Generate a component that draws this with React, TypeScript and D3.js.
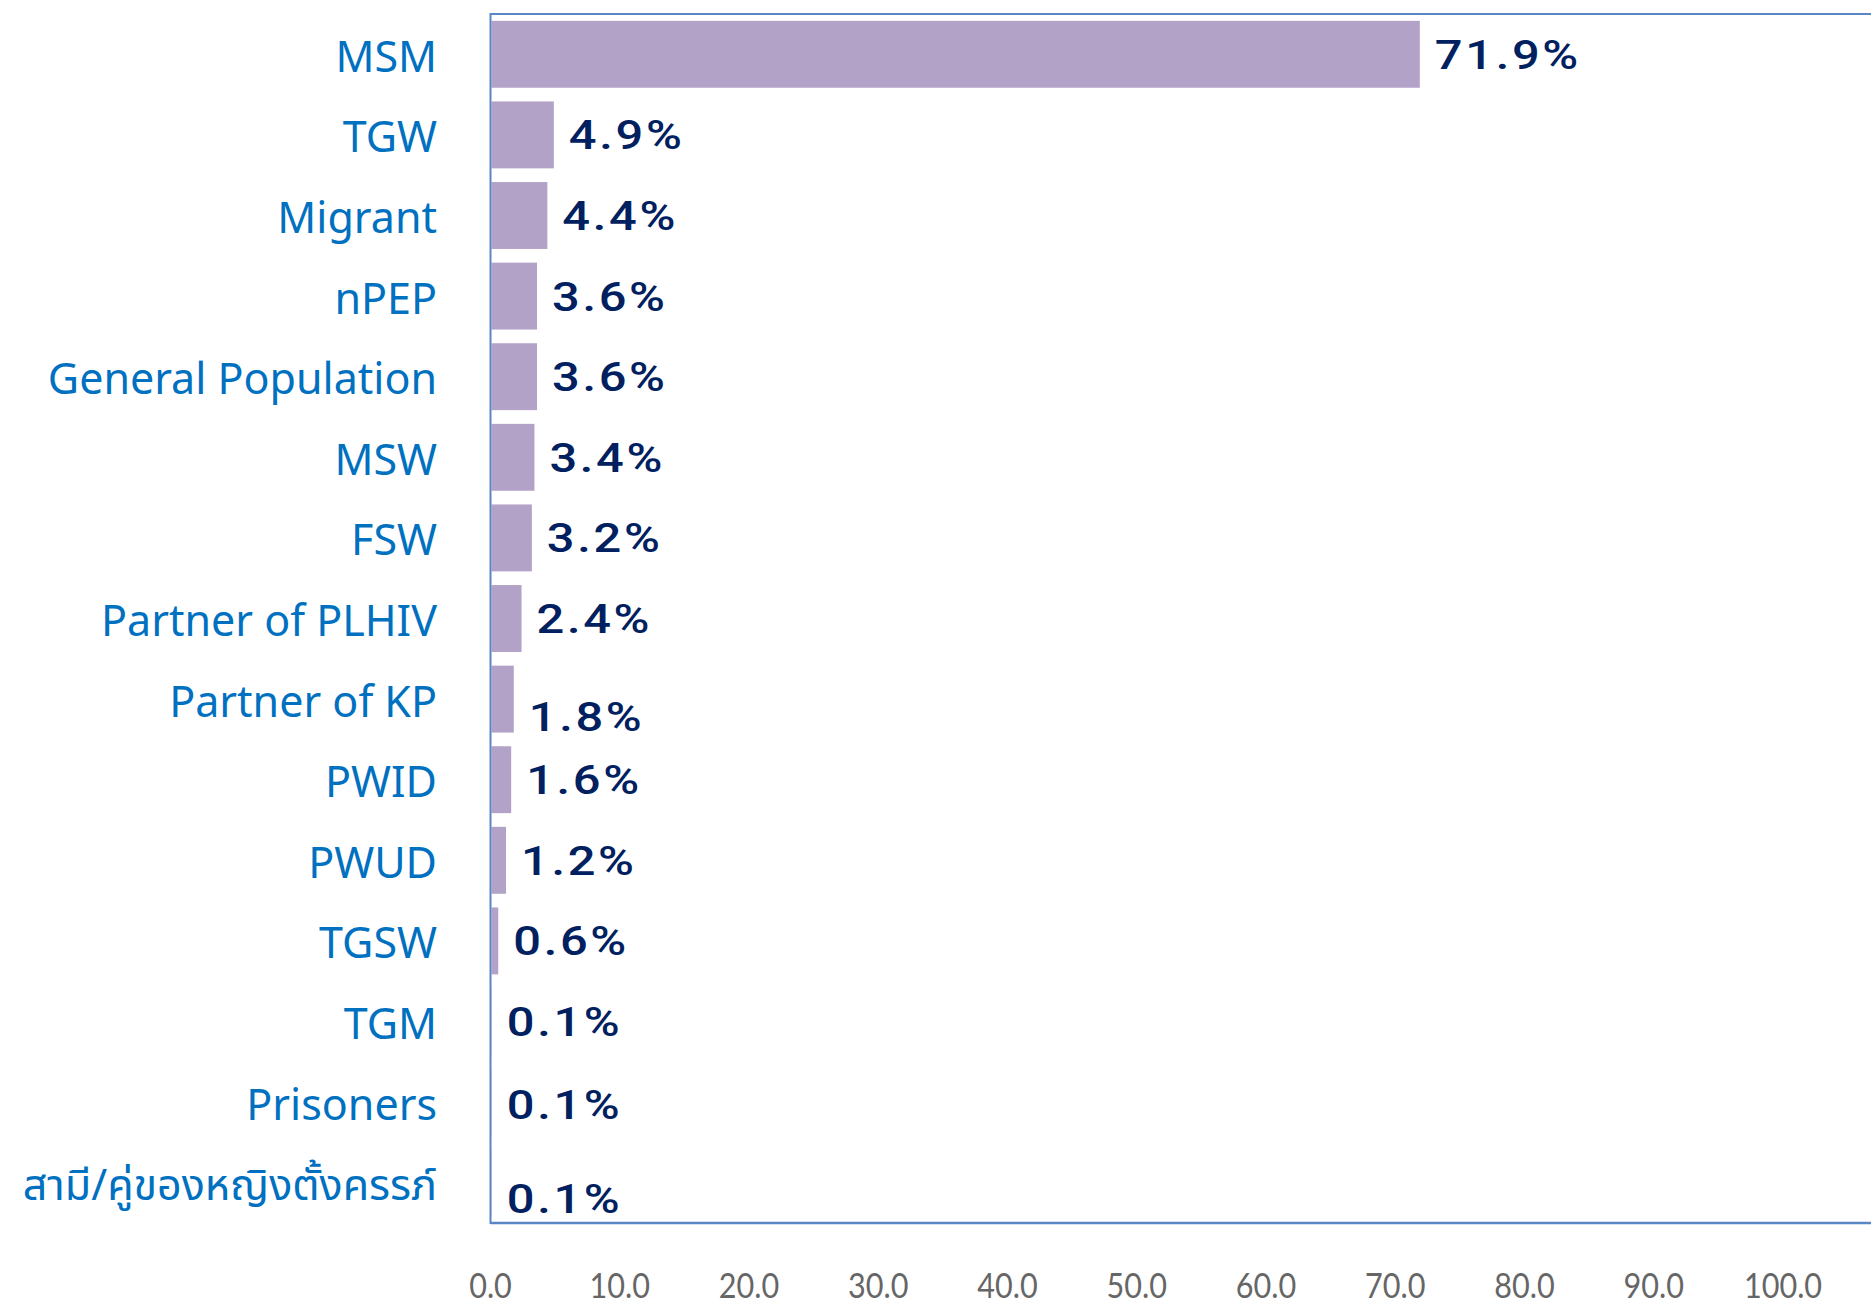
import React from "react";
import * as d3 from "d3";

const categories = [
  "MSM",
  "TGW",
  "Migrant",
  "nPEP",
  "General Population",
  "MSW",
  "FSW",
  "Partner of PLHIV",
  "Partner of KP",
  "PWID",
  "PWUD",
  "TGSW",
  "TGM",
  "Prisoners",
  "สามี/คู่ของหญิงตั้งครรภ์",
];
const values = [71.9, 4.9, 4.4, 3.6, 3.6, 3.4, 3.2, 2.4, 1.8, 1.6, 1.2, 0.6, 0.1, 0.1, 0.1];
const valueLabels = ["71.9%", "4.9%", "4.4%", "3.6%", "3.6%", "3.4%", "3.2%", "2.4%", "1.8%", "1.6%", "1.2%", "0.6%", "0.1%", "0.1%", "0.1%"];
const xTicks = [0, 10, 20, 30, 40, 50, 60, 70, 80, 90, 100];

// manual label nudges (vertical), as in the original chart
const labelNudge: Record<string, number> = {
  "Partner of KP": 17,
  "Prisoners": 2,
  "สามี/คู่ของหญิงตั้งครรภ์": 16,
};

const W = 1871;
const H = 1304;

export default function App() {
  const x = d3.scaleLinear().domain([0, 100]).range([490.5, 1783]);
  const y = d3
    .scaleBand<string>()
    .domain(categories)
    .range([14, 1223])
    .paddingInner(0.17)
    .paddingOuter(0.085);
  const bw = y.bandwidth();
  const frameColor = "#5A86C3";

  return (
    <svg
      width={W}
      height={H}
      viewBox={`0 0 ${W} ${H}`}
      style={{ position: "absolute", left: 0, top: 0, display: "block", background: "#fff" }}
    >
      <rect x={0} y={0} width={W} height={H} fill="#fff" />
      {/* bars */}
      {categories.map((c, i) => (
        <rect
          key={c}
          x={x(0) + 1}
          y={y(c)!}
          width={Math.max(0, x(values[i]) - x(0) - 1)}
          height={bw}
          fill="#B3A2C7"
        />
      ))}
      {/* plot frame */}
      <line x1={x(0)} x2={W} y1={14} y2={14} stroke={frameColor} strokeWidth={2} />
      <line x1={x(0)} x2={W} y1={1223} y2={1223} stroke={frameColor} strokeWidth={2.5} />
      <line x1={x(0)} x2={x(0)} y1={13} y2={1224} stroke={frameColor} strokeWidth={2} />
      {/* category labels */}
      {categories.map((c) => (
        <text
          key={"c" + c}
          x={437}
          y={y(c)! + bw / 2 + 17.5}
          textAnchor="end"
          fill="#0070C0"
          fontFamily="'Noto Sans', 'Noto Sans Thai', 'Loma', 'Garuda', sans-serif"
          fontSize={43}
        >
          {c}
        </text>
      ))}
      {/* value labels */}
      {categories.map((c, i) => (
        <text
          key={"v" + c}
          transform={`translate(${x(values[i]) + 15},${y(c)! + bw / 2 + 14.5 + (labelNudge[c] || 0)}) scale(1.22,1)`}
          fill="#002060"
          fontFamily="Roboto, 'Noto Sans', sans-serif"
          fontWeight={500}
          fontSize={40}
          letterSpacing={2.2}
        >
          {valueLabels[i]}
        </text>
      ))}
      {/* x tick labels */}
      {xTicks.map((t) => (
        <text
          key={"t" + t}
          transform={`translate(${x(t)},1298) scale(0.9,1)`}
          textAnchor="middle"
          fill="#666666"
          fontFamily="Lato, 'Open Sans', sans-serif"
          fontWeight={400}
          fontSize={34}
        >
          {d3.format(".1f")(t)}
        </text>
      ))}
    </svg>
  );
}
